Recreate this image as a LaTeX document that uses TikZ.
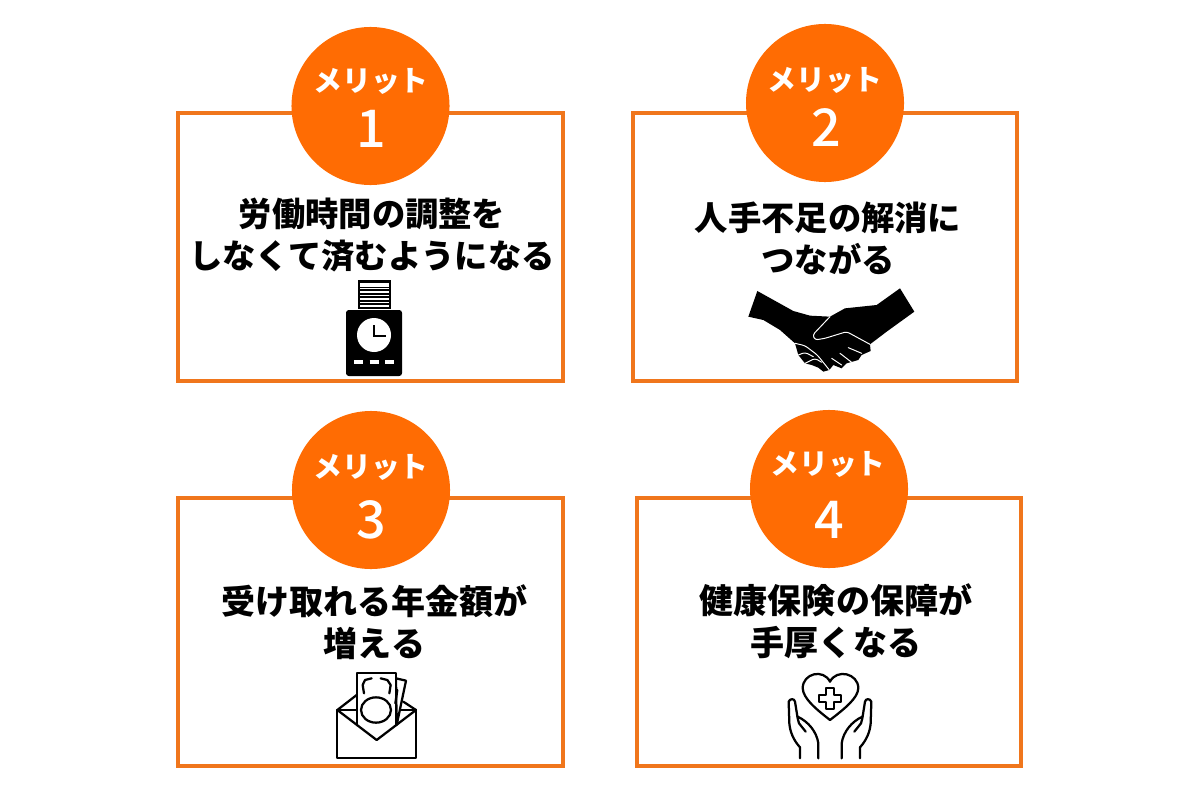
\documentclass[tikz,border=0pt]{standalone}
\usepackage{fontspec}
\setmainfont{Noto Sans CJK JP}[BoldFont=Noto Sans CJK JP Black]
\newfontfamily\numfont{Noto Sans CJK JP Medium}
\usetikzlibrary{positioning}
\definecolor{boxorange}{RGB}{240,118,28}
\definecolor{badgeorange}{RGB}{255,108,3}

\begin{document}
\begin{tikzpicture}[x=0.025cm, y=-0.025cm]
    \tikzstyle{meritbox} = [rectangle, minimum width=9.6cm, minimum height=6.7cm, draw=boxorange, line width=2.9pt, fill=white]
    \tikzstyle{badge}    = [circle, minimum size=3.95cm, inner sep=0pt, fill=badgeorange]
    \tikzstyle{badgetop} = [text=white, font=\fontsize{20.5}{24}\selectfont\bfseries, inner sep=0pt]
    \tikzstyle{badgenum} = [text=white, font=\fontsize{37}{40}\selectfont\numfont, inner sep=0pt]
    \tikzstyle{caption}  = [align=center, text=black, font=\fontsize{23.7}{30}\selectfont\bfseries, inner sep=0pt]
    \tikzstyle{wide}     = [font=\fontsize{24.2}{29.5}\selectfont\bfseries]
    \tikzstyle{iconline} = [black, line width=1.6pt, line join=round, line cap=round]
    \tikzstyle{handline} = [white, line width=0.7pt, line join=round, line cap=round, rounded corners=2pt]

    \useasboundingbox (0,0) rectangle (1200,800);

    % Boxes
    \node [meritbox] (boxA) at (370.5,247) {};
    \node [meritbox] (boxB) at (825,247)   {};
    \node [meritbox] (boxC) at (370.5,632) {};
    \node [meritbox] (boxD) at (829,632)   {};

    % Badges
    \node [badge] (badgeA) at (370.5,106) {};
    \node [badge] (badgeB) at (825,103)   {};
    \node [badge] (badgeC) at (371,490)   {};
    \node [badge] (badgeD) at (829,489)   {};

    \node [badgetop] (topA) at (371,81)  {メリット};
    \node [badgetop] (topB) at (825,80)  {メリット};
    \node [badgetop] (topC) at (371,467) {メリット};
    \node [badgetop] (topD) at (828,464) {メリット};

    \node [badgenum] (numA) at (371,129) {1};
    \node [badgenum] (numB) at (826,128) {2};
    \node [badgenum] (numC) at (371,520) {3};
    \node [badgenum] (numD) at (829,520) {4};

    % Captions
    \node [caption] (textA) at (372,235) {労働時間の調整を\\しなくて済むようになる};
    \node [caption] (textB) at (828,238) {人手不足の解消に\\つながる};
    \node [caption, wide] (textC) at (374.5,622) {受け取れる年金額が\\増える};
    \node [caption, wide] (textD) at (836,621) {健康保険の保障が\\手厚くなる};

    % Time clock
    \fill [black] (358,280) rectangle (391,309);
    \fill [white] (360,283) rectangle (389,286.5);
    \foreach \y in {288.5,292,...,307} \draw [white, line width=1pt] (360,\y) -- (389,\y);
    \fill [black, rounded corners=2pt] (346,310) rectangle (402,376);
    \fill [white] (374,335) circle [radius=17];
    \draw [black, line width=1.5pt] (374,325) -- (374,336) -- (386,336);
    \foreach \x in {354,369.5,385} \draw [white, line width=2.2pt] (\x,362) -- (\x+9,362);

    % Handshake
    \begin{scope}[shift={(730,275)}, scale=0.3333]
        \fill [black, line join=round] (82,48) -- (190,108) -- (240,122) -- (300,125) -- (345,100) -- (440,90) -- (510,40) -- (553,110) -- (470,170) -- (420,208) -- (422,228) -- (395,240) -- (385,255) -- (350,265) -- (335,280) -- (310,270) -- (298,285) -- (280,290) -- (265,278) -- (245,270) -- (225,265) -- (205,240) -- (195,205) -- (150,165) -- (100,135) -- (55,125) -- cycle;
        \draw [handline] (300,125) -- (248,180) -- (255,195) -- (285,190) -- (350,170) -- (420,208);
        \draw [handline] (355,218) -- (395,235);
        \draw [handline] (330,235) -- (365,262);
        \draw [handline] (305,250) -- (335,270);
        \draw [handline] (195,205) -- (225,212) -- (262,240) -- (298,285);
        \draw [handline] (205,240) -- (225,232) -- (250,245);
        \draw [handline] (225,265) -- (255,250) -- (275,262);
    \end{scope}

    % Envelope with notes
    \begin{scope}[shift={(320,660)}, scale=0.3333]
        \draw [iconline] (52,150) -- (52,293) -- (288,293) -- (288,150);
        \draw [iconline] (52,150) -- (110,105);
        \draw [iconline] (288,150) -- (250,125);
        \draw [iconline] (52,150) -- (110,150);
        \draw [iconline] (228,150) -- (288,150);
        \draw [iconline, fill=white] (228,55) -- (258,62) -- (230,195) -- cycle;
        \draw [iconline, fill=white] (110,196) -- (110,40) -- (228,40) -- (228,196);
        \draw [iconline] (168,150) ellipse [x radius=45, y radius=38];
        \draw [iconline] (155,55) -- (135,60) -- (128,75) -- (132,100);
        \draw [iconline] (182,55) -- (202,60) -- (212,75) -- (208,100);
        \draw [iconline] (232,90) -- (226,130);
        \draw [iconline] (52,150) -- (170,240) -- (288,150);
    \end{scope}

    % Heart and hands
    \begin{scope}[shift={(775,660)}, scale=0.3333]
        \draw [iconline] (165,180) .. controls (120,145) and (85,115) .. (83,85) .. controls (83,40) and (145,25) .. (165,65) .. controls (185,25) and (250,40) .. (250,85) .. controls (248,115) and (210,145) .. (165,180) -- cycle;
        \draw [iconline] (154,83) -- (176,83) -- (176,104) -- (197,104) -- (197,126) -- (176,126) -- (176,147) -- (154,147) -- (154,126) -- (133,126) -- (133,104) -- (154,104) -- cycle;
        \draw [iconline] (75,295) -- (75,262) .. controls (55,240) and (45,215) .. (43,190) -- (41,125) .. controls (45,115) and (58,115) .. (60,125) -- (68,175) -- (72,190) -- (92,215);
        \draw [iconline] (68,170) .. controls (100,185) and (125,215) .. (130,250) -- (130,295);
        \draw [iconline] (255,295) -- (255,262) .. controls (275,240) and (285,215) .. (287,190) -- (289,125) .. controls (285,115) and (272,115) .. (270,125) -- (262,175) -- (258,190) -- (238,215);
        \draw [iconline] (262,170) .. controls (230,185) and (205,215) .. (200,250) -- (200,295);
    \end{scope}

\end{tikzpicture}
\end{document}
